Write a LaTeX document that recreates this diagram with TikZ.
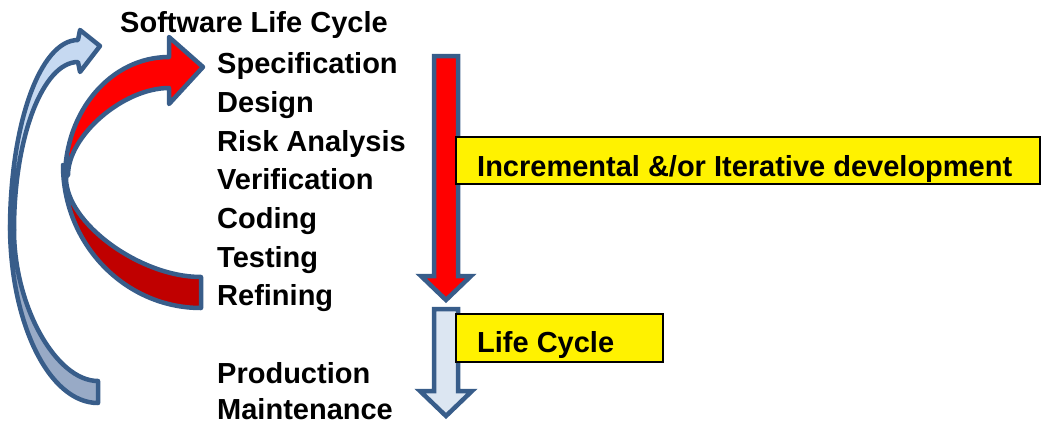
\documentclass[tikz,border=0pt]{standalone}
\usepackage{fontspec}
\setmainfont{Liberation Sans}
\usepackage{xcolor}
\usepackage{tikz}
\usetikzlibrary{positioning}

\definecolor{arrowline}{RGB}{56,93,138}
\definecolor{frontred}{RGB}{255,0,0}
\definecolor{backred}{RGB}{192,0,0}
\definecolor{frontblue}{RGB}{198,217,241}
\definecolor{backblue}{RGB}{152,170,198}
\definecolor{paleblue}{RGB}{220,230,242}

\tikzset{
  stage/.style={anchor=base west, inner sep=0pt, font=\fontsize{29}{35}\selectfont\bfseries},
  band/.style={draw=arrowline, line width=4.5pt, line join=round},
  downarrow/.style={draw=arrowline, line width=4.5pt, line join=miter},
  note/.style={fill=yellow, draw=black, line width=2pt},
}

\begin{document}
\begin{tikzpicture}[x=1pt,y=-1pt]
    \useasboundingbox (0,0) rectangle (1042,424);

    % outer loop arrow (back face, then front face)
    \draw[band, fill=backblue] (10,225) .. controls (10,323) and (49,403) .. (98,403)
        -- (98,381) .. controls (56,381) and (14,306) .. (14,230) -- cycle;
    \draw[band, fill=frontblue] (10,230) .. controls (10,125) and (40,40) .. (78,40)
        -- (80,30) -- (100,46) -- (80,72) -- (78,62)
        .. controls (43,62) and (14,137) .. (14,230) -- cycle;

    % inner loop arrow
    \draw[band, fill=backred] (63,165) .. controls (63,244) and (125,308) .. (201,308)
        -- (201,277) .. controls (140,277) and (66,223) .. (66,178) -- cycle;
    \draw[band, fill=frontred] (65,178) .. controls (65,111) and (111,57) .. (169,57)
        -- (169,37) -- (203,67) -- (169,104) -- (169,88)
        .. controls (123,88) and (68,136) .. (68,175) -- cycle;

    % down arrows
    \draw[downarrow, fill=frontred] (434,56) -- (458,56) -- (458,276) -- (471,276)
        -- (446,300) -- (421,276) -- (434,276) -- cycle;
    \draw[downarrow, fill=paleblue] (434,309) -- (458,309) -- (458,391) -- (472,391)
        -- (446,416) -- (420,391) -- (434,391) -- cycle;

    % yellow labels
    \draw[note] (456,137) rectangle (1040,184);
    \begin{scope}
        \clip (457,138) rectangle (1039,183);
        \node[stage] (incr) at (477,176) {Incremental \&/or Iterative development};
    \end{scope}
    \draw[note] (456,314) rectangle (663,362);
    \begin{scope}
        \clip (457,315) rectangle (662,361);
        \node[stage] (cycle) at (477,352) {Life Cycle};
    \end{scope}

    % stages
    \node[stage] (title) at (120,32.5) {Software Life Cycle};
    \node[stage] (spec) at (217,73.5) {Specification};
    \node[stage] (design) at (217,112) {Design};
    \node[stage] (risk) at (217,151) {Risk Analysis};
    \node[stage] (verif) at (217,189.5) {Verification};
    \node[stage] (coding) at (217,228.5) {Coding};
    \node[stage] (testing) at (217,267.5) {Testing};
    \node[stage] (refining) at (217,305.5) {Refining};
    \node[stage] (production) at (217,383.5) {Production};
    \node[stage] (maint) at (217,419.5) {Maintenance};

\end{tikzpicture}
\end{document}
